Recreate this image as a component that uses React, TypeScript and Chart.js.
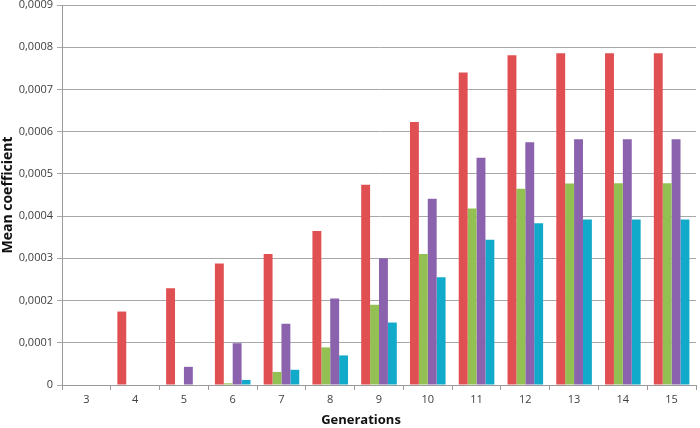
import React, { useEffect, useRef } from "react";
import { Chart, registerables } from "chart.js";

Chart.register(...registerables);

const categories = ["3", "4", "5", "6", "7", "8", "9", "10", "11", "12", "13", "14", "15"];
const seriesRed = [0, 0.000174, 0.000229, 0.000288, 0.00031, 0.000365, 0.000474, 0.000623, 0.00074, 0.000781, 0.000786, 0.000786, 0.000786];
const seriesGreen = [0, 0, 0, 0.000004, 0.000031, 0.000089, 0.00019, 0.00031, 0.000418, 0.000465, 0.000477, 0.000478, 0.000478];
const seriesPurple = [0, 0, 0.000043, 0.000099, 0.000145, 0.000205, 0.0003, 0.000441, 0.000538, 0.000575, 0.000582, 0.000582, 0.000582];
const seriesCyan = [0, 0, 0, 0.000012, 0.000036, 0.00007, 0.000148, 0.000255, 0.000344, 0.000383, 0.000392, 0.000392, 0.000392];

const colors = ["#E05052", "#92C052", "#8A62AE", "#12AACB"];
const xTitle = "Generations";
const yTitle = "Mean coefficient";

export default function App() {
  const ref = useRef<HTMLCanvasElement | null>(null);
  useEffect(() => {
    if (!ref.current) return;
    const font = "'Open Sans', 'Liberation Sans', sans-serif";
    const xTitlePlugin = {
      id: "xTitlePlugin",
      afterDraw(c: any) {
        const ctx = c.ctx;
        ctx.save();
        ctx.font = `bold 13px ${font}`;
        ctx.fillStyle = "#111";
        ctx.textAlign = "center";
        ctx.textBaseline = "middle";
        ctx.fillText(xTitle, 361, 420);
        ctx.restore();
      },
    };
    const chart = new Chart(ref.current, {
      type: "bar",
      data: {
        labels: categories,
        datasets: [seriesRed, seriesGreen, seriesPurple, seriesCyan].map((d, i) => ({
          label: "s" + i,
          data: d,
          backgroundColor: colors[i],
          borderWidth: 0,
          barPercentage: 1,
          categoryPercentage: 0.73,
        })),
      },
      plugins: [xTitlePlugin],
      options: {
        responsive: false,
        animation: false,
        maintainAspectRatio: false,
        layout: { padding: { left: 0, right: 4, top: 5, bottom: 0 } },
        plugins: { legend: { display: false }, tooltip: { enabled: false } },
        scales: {
          x: {
            grid: { display: true, drawOnChartArea: false, tickLength: 5, color: "#9a9a9a", offset: true },
            border: { color: "#9a9a9a", width: 1 },
            ticks: { color: "#404040", font: { family: font, size: 11 }, padding: 3, maxRotation: 0 },
            afterFit: (s: any) => { s.height = 43; },
          },
          y: {
            min: 0,
            max: 0.0009,
            grid: { color: "#a8a8a8", tickLength: 5, lineWidth: 1 },
            border: { color: "#9a9a9a", width: 1 },
            ticks: {
              stepSize: 0.0001,
              color: "#404040",
              font: { family: font, size: 11 },
              padding: 4,
              callback: (v: any) => {
                const n = Number(v);
                if (Math.abs(n) < 1e-12) return "0";
                return n.toFixed(4).replace(".", ",");
              },
            },
            title: { display: true, text: yTitle, color: "#111", font: { family: font, size: 14, weight: "bold" }, padding: { top: 0, bottom: 2 } },
            afterFit: (s: any) => { s.width = 62; s.paddingTop = 0; s.paddingBottom = 0; },
          },
        },
      },
    });
    return () => chart.destroy();
  }, []);
  return (
    <div style={{ position: "fixed", left: 0, top: 0, width: 700, height: 428, background: "#fff" }}>
      <canvas ref={ref} width={700} height={428} style={{ width: 700, height: 428 }} />
    </div>
  );
}
